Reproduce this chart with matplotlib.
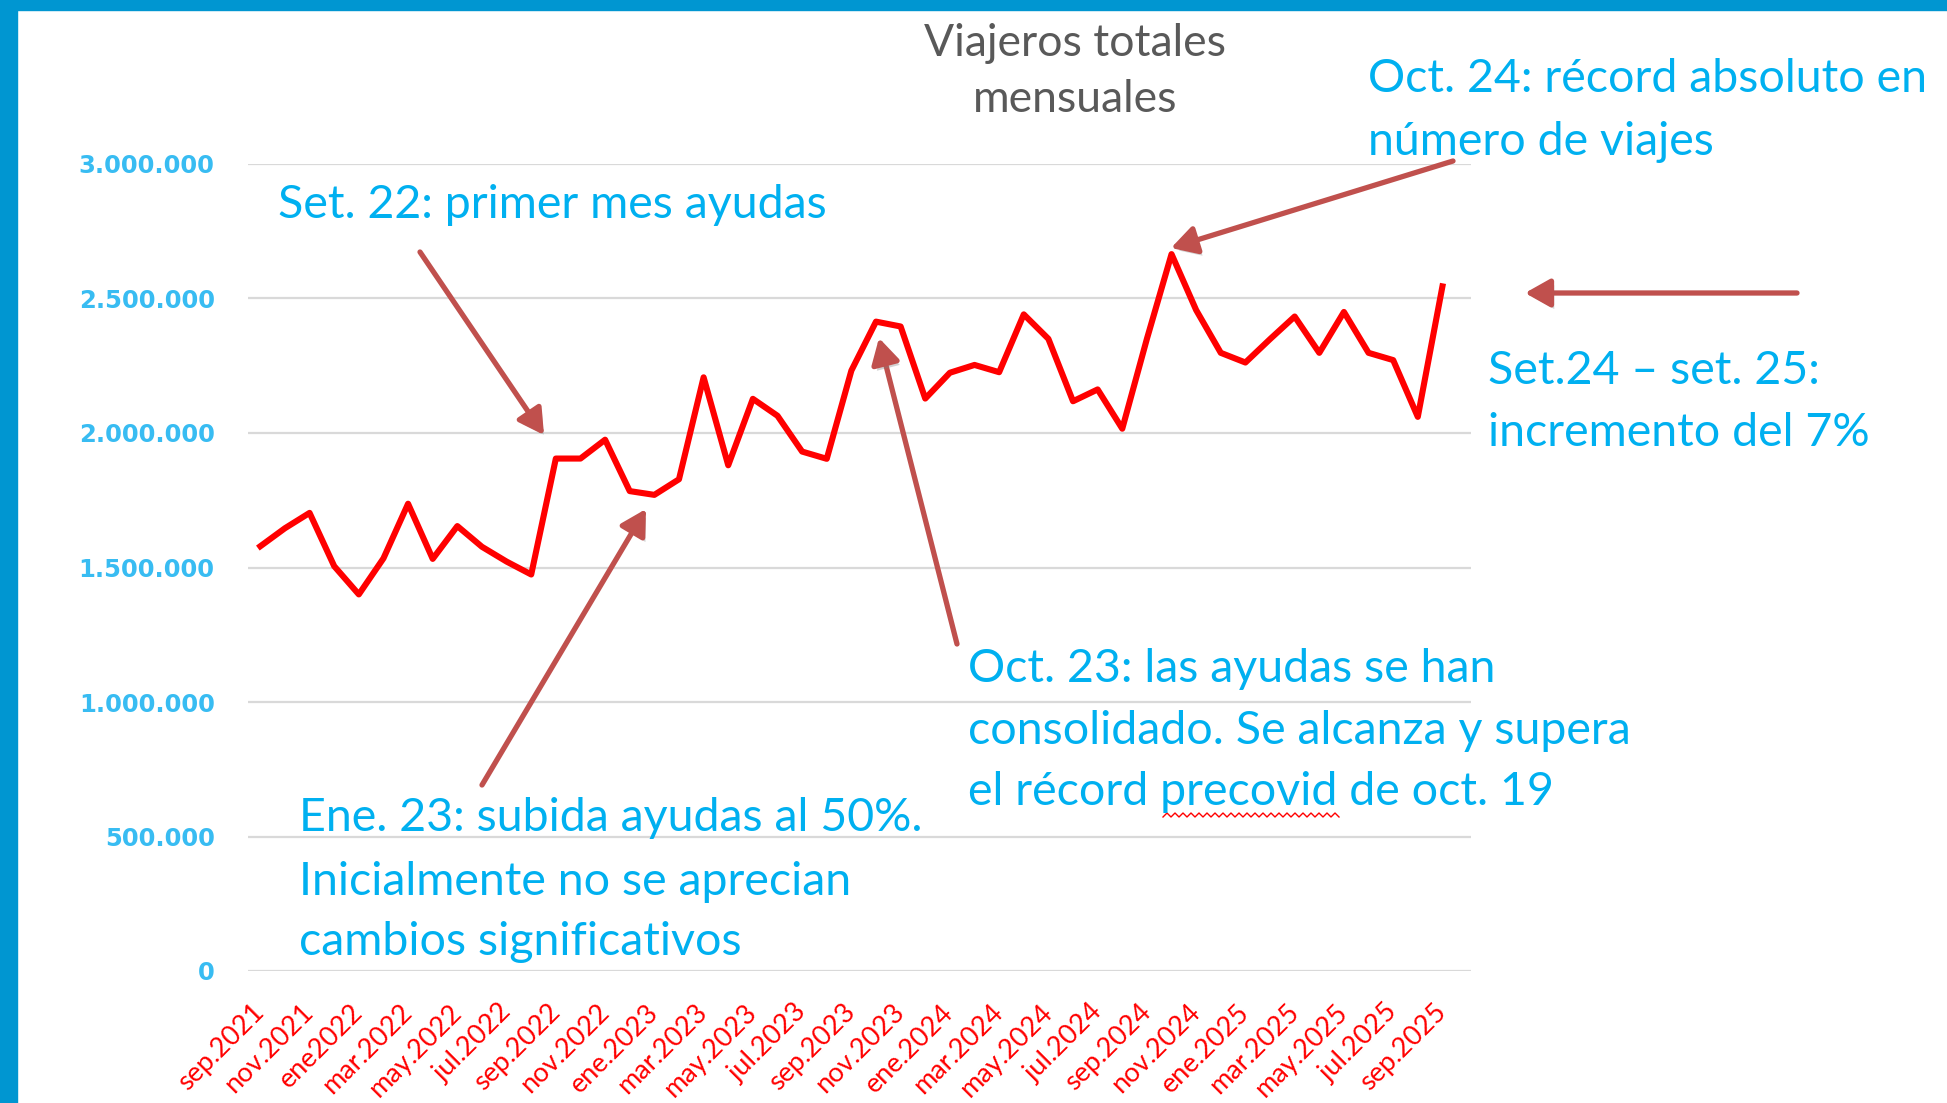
import matplotlib
matplotlib.use("Agg")
import numpy as np
import matplotlib.pyplot as plt
import matplotlib.patheffects as pe
from matplotlib.ticker import FuncFormatter

# viajeros totales mensuales, sep.2021 .. sep.2025
viajeros = [1579000, 1646000, 1703000, 1505000, 1400000, 1534000, 1737000, 1532000,
            1654000, 1577000, 1522000, 1474000, 1905000, 1905000, 1975000, 1784000,
            1770000, 1828000, 2207000, 1880000, 2127000, 2064000, 1931000, 1904000,
            2232000, 2414000, 2396000, 2128000, 2224000, 2253000, 2226000, 2441000,
            2350000, 2118000, 2162000, 2016000, 2350000, 2665000, 2457000, 2298000,
            2262000, 2349000, 2433000, 2298000, 2450000, 2298000, 2271000, 2060000,
            2545000]

etiquetas = ["sep.2021", "nov.2021", "ene2022", "mar.2022", "may.2022", "jul.2022",
             "sep.2022", "nov.2022", "ene.2023", "mar.2023", "may.2023", "jul.2023",
             "sep.2023", "nov.2023", "ene.2024", "mar.2024", "may.2024", "jul.2024",
             "sep.2024", "nov.2024", "ene.2025", "mar.2025", "may.2025", "jul.2025",
             "sep.2025"]

y_ticks = [0, 500000, 1000000, 1500000, 2000000, 2500000, 3000000]

W, H = 1947, 1103
AZUL = "#00B0F0"
FLECHA = "#C0504D"

fig = plt.figure(figsize=(W / 100, H / 100), dpi=100)
fig.patch.set_facecolor("white")

# marco azul (arriba e izquierda)
fig.add_artist(plt.Rectangle((0, 1 - 10 / H), 1, 10 / H, transform=fig.transFigure,
                             color="#0096D1", zorder=0))
fig.add_artist(plt.Rectangle((0, 0), 17 / W, 1, transform=fig.transFigure,
                             color="#0096D1", zorder=0))

ax = fig.add_axes([248 / W, 1 - 971 / H, 1223 / W, (971 - 164) / H])
x = list(range(len(viajeros)))
ax.plot(x, viajeros, color="#FF0000", lw=4.4, solid_joinstyle="round", zorder=3)

ax.set_xlim(-0.5, len(viajeros) + 0.16)
ax.set_ylim(0, 3000000)
ax.set_yticks(y_ticks)
ax.yaxis.set_major_formatter(FuncFormatter(lambda v, p: f"{int(v):,}".replace(",", ".")))
ax.grid(axis="y", color="#D9D9D9", lw=1.6)
ax.set_axisbelow(True)
for s in ax.spines.values():
    s.set_visible(False)
ax.tick_params(axis="y", length=0, pad=24, labelcolor="#38BCF2", labelsize=17.5)
for t in ax.get_yticklabels():
    t.set_fontweight("bold")

ax.set_xticks(x[::2])
ax.set_xticklabels(etiquetas, rotation=45, ha="right", va="center",
                   rotation_mode="anchor", color="#FF0000", fontsize=19.5, family="Lato")
ax.tick_params(axis="x", length=0, pad=27)


def fy(y):
    return H - y


fig.text(1075 / W, 1 - 43 / H, "Viajeros totales", ha="center", va="center",
         fontsize=32, color="#595959", family="Lato")
fig.text(1075 / W, 1 - 99 / H, "mensuales", ha="center", va="center",
         fontsize=32, color="#595959", family="Lato")

notas = [
    (278, 205, "Set. 22: primer mes ayudas"),
    (1368, 79, "Oct. 24: récord absoluto en"),
    (1368, 142, "número de viajes"),
    (1488, 371, "Set.24 – set. 25:"),
    (1488, 433, "incremento del 7%"),
    (968, 669, "Oct. 23: las ayudas se han"),
    (968, 731, "consolidado. Se alcanza y supera"),
    (968, 792, "el récord precovid de oct. 19"),
    (299, 818, "Ene. 23: subida ayudas al 50%."),
    (299, 882, "Inicialmente no se aprecian"),
    (299, 942, "cambios significativos"),
]
for nx, ny, txt in notas:
    fig.text(nx / W, fy(ny) / H, txt, ha="left", va="center", fontsize=33.5,
             color=AZUL, family="Lato")

# subrayado ondulado del corrector bajo "precovid"
zx = np.arange(1163, 1342, 4)
zy = fy(815) + np.where(np.arange(len(zx)) % 2 == 0, -2, 2)
fig.add_artist(matplotlib.lines.Line2D(zx, zy, transform=None, color="#FF0000", lw=1))

flechas = [
    ((420, 252), (544, 435)),
    ((482, 785), (646, 509)),
    ((957, 644), (879, 338)),
    ((1453, 161), (1171, 248)),
    ((1797, 293), (1525, 293)),
]
sombra = [pe.SimplePatchShadow(offset=(2, -3), shadow_rgbFace="0.5", alpha=0.35), pe.Normal()]
for (x0, y0), (x1, y1) in flechas:
    fig.add_artist(matplotlib.patches.FancyArrowPatch(
        (x0, fy(y0)), (x1, fy(y1)), transform=None,
        arrowstyle="-|>,head_length=0.8,head_width=0.45", mutation_scale=19,
        color=FLECHA, lw=3.8, shrinkA=0, shrinkB=0, path_effects=sombra, zorder=5))

fig.savefig("out.png", dpi=100)
